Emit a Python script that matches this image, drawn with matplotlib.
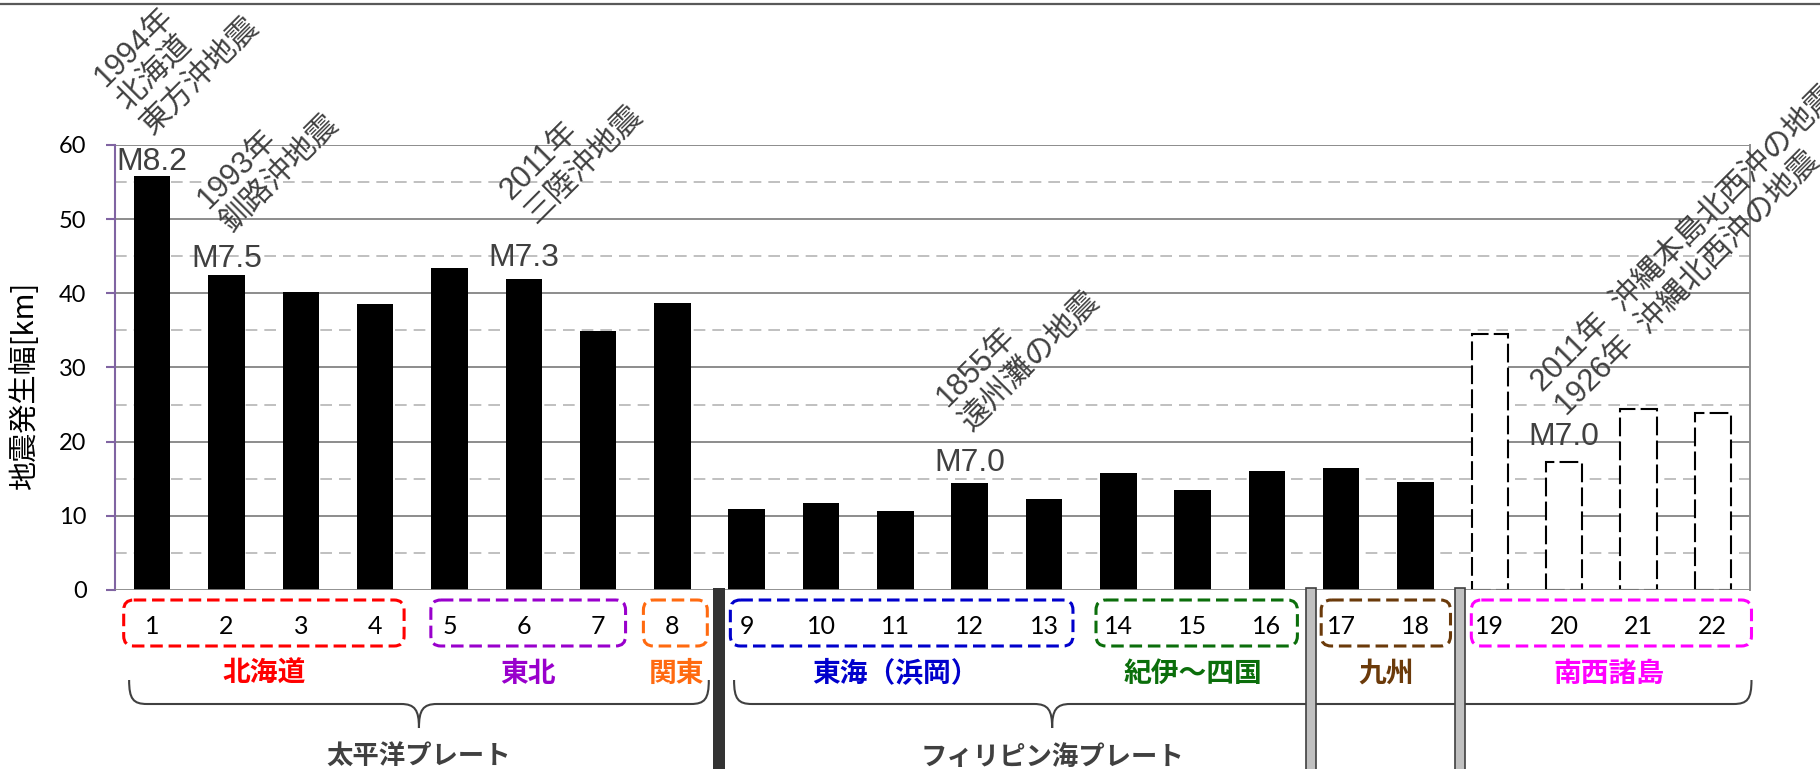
import matplotlib
matplotlib.use('Agg')
import matplotlib.pyplot as plt
from matplotlib.patches import FancyBboxPatch, PathPatch, Rectangle
from matplotlib.path import Path

plt.rcParams['font.family'] = ['Noto Sans CJK JP', 'DejaVu Sans']

# ---------------- data ----------------
categories = list(range(1, 23))
widths_km = [55.8, 42.5, 40.2, 38.5, 43.4, 41.9, 34.9, 38.7,
             10.9, 11.7, 10.6, 14.4, 12.3, 15.8, 13.5, 16.1,
             16.4, 14.6, 34.5, 17.3, 24.4, 23.8]
estimated = [False] * 18 + [True] * 4

region_names = ['北海道', '東北', '関東', '東海（浜岡）', '紀伊～四国', '九州', '南西諸島']
region_colors = ['#ff0000', '#9900cc', '#ff6a10', '#0000cc', '#0b6e0b', '#6b3a0a', '#ff00ff']

plate_names = ['太平洋プレート', 'フィリピン海プレート']

event_bars = [1, 2, 6, 12, 20]
event_mags = ['M8.2', 'M7.5', 'M7.3', 'M7.0', 'M7.0']
event_names = ['1994年\n北海道\n東方沖地震',
               '1993年\n釧路沖地震',
               '2011年\n三陸沖地震',
               '1855年\n遠州灘の地震',
               '2011年  沖縄本島北西沖の地震\n1926年  沖縄北西沖の地震']

yticks = [0, 10, 20, 30, 40, 50, 60]
ylabel = '地震発生幅[km]'

# ---------------- layout (pixels / category units) ----------------
W, H = 1820, 769
AX_L, AX_R, AX_T, AX_B = 115, 1750, 145, 590
CAT_PX = (AX_R - AX_L) / 22.0

region_label_x = [2.5, 6.05, 8.05, 11.0, 15.0, 17.6, 20.6]
box_left = [0.617, 4.75, 7.61, 8.78, 13.7, 16.73, 18.75]
box_right = [4.39, 7.37, 8.47, 13.39, 16.41, 18.47, 22.52]
brace_left = [0.69, 8.83]
brace_right = [8.49, 22.52]
brace_tip = [4.59, 13.11]
sep_x = [8.63, 16.59, 18.6]
sep_dark = [True, False, False]
mag_dy = [6, 8, 13, 12, 17]
name_off = [(5, 30), (10, 29), (16, 37), (6, 35), (7, 24)]

TXT = '#404040'
PURPLE = '#8064a2'

fig = plt.figure(figsize=(W / 100, H / 100), dpi=100)
ax = fig.add_axes([AX_L / W, 1 - AX_B / H, (AX_R - AX_L) / W, (AX_B - AX_T) / H])
ax.set_xlim(0.5, 22.5)
ax.set_ylim(0, 60)

# grid
for y in range(10, 61, 10):
    ax.axhline(y, color='#8c8c8c', lw=1.4, zorder=1)
for y in range(5, 60, 10):
    ax.axhline(y, color='#c0c0c0', lw=1.4, ls=(0, (6, 3.6)), zorder=1)
ax.axhline(0, color='#868686', lw=2, zorder=3)

# bars
sx = [c for c, e in zip(categories, estimated) if not e]
sv = [v for v, e in zip(widths_km, estimated) if not e]
dx = [c for c, e in zip(categories, estimated) if e]
dv = [v for v, e in zip(widths_km, estimated) if e]
ax.bar(sx, sv, 0.49, color='black', zorder=2)
ax.bar(dx, dv, 0.49, facecolor='white', edgecolor='black', lw=1.5,
       ls=(0, (9, 2.5)), zorder=2)

# spines and ticks
for s in ['top', 'bottom']:
    ax.spines[s].set_visible(False)
ax.spines['left'].set_color(PURPLE)
ax.spines['left'].set_linewidth(1.5)
ax.spines['right'].set_color('#8c8c8c')
ax.spines['right'].set_linewidth(1.4)
ax.set_yticks(yticks)
ax.set_yticklabels([str(t) for t in yticks], family='Lato', fontsize=17)
ax.tick_params(axis='y', direction='out', length=6.5, width=1.5, color=PURPLE, pad=14)
ax.set_xticks([])

# annotations
for b, m, mdy, nm, (ndx, ndy) in zip(event_bars, event_mags, mag_dy, event_names, name_off):
    v = widths_km[b - 1]
    ax.annotate(m, xy=(b, v), xytext=(0, mdy * 0.72), textcoords='offset points',
                ha='center', va='baseline', fontsize=23, color=TXT,
                family=['Liberation Sans', 'Noto Sans CJK JP'], annotation_clip=False)
    ax.annotate(nm, xy=(b, v), xytext=(ndx * 0.72, (mdy + ndy) * 0.72),
                textcoords='offset points', ha='left', va='bottom', rotation=45,
                rotation_mode='anchor', fontsize=22, color=TXT, linespacing=1.15,
                multialignment='left', family=['Liberation Sans', 'Noto Sans CJK JP'],
                annotation_clip=False)

fig.text(25.5 / W, 1 - 386 / H, ylabel, rotation=90, ha='center', va='center', fontsize=21)

# overlay in pixel coordinates
ov = fig.add_axes([0, 0, 1, 1], zorder=5)
ov.set_xlim(0, W)
ov.set_ylim(H, 0)
ov.axis('off')


def cx(x):
    return AX_L + (x - 0.5) * CAT_PX


ov.plot([0, W], [4, 4], color='#595959', lw=1.6)

for c in categories:
    ov.text(cx(c), 627, str(c), ha='center', va='center', fontsize=18, family='Lato')

for name, col, lx, bl, br in zip(region_names, region_colors, region_label_x, box_left, box_right):
    x0, x1 = cx(bl), cx(br)
    ov.add_patch(FancyBboxPatch((x0, 600), x1 - x0, 46,
                                boxstyle='round,pad=0,rounding_size=10',
                                facecolor='none', edgecolor=col, lw=2.2, ls=(0, (4.1, 1.9))))
    ov.text(cx(lx), 674, name, ha='center', va='center', fontsize=20,
            fontweight='bold', color=col)

r = 18
for name, bl, br, bt in zip(plate_names, brace_left, brace_right, brace_tip):
    xl, xr, xt = cx(bl), cx(br), cx(bt)
    verts = [(xl, 680), (xl, 699), (xl + 4, 704), (xl + r, 704),
             (xt - r, 704),
             (xt - 4, 704), (xt, 710), (xt, 728),
             (xt, 710), (xt + 4, 704), (xt + r, 704),
             (xr - r, 704),
             (xr - 4, 704), (xr, 699), (xr, 680)]
    codes = [Path.MOVETO, Path.CURVE4, Path.CURVE4, Path.CURVE4,
             Path.LINETO,
             Path.CURVE4, Path.CURVE4, Path.CURVE4,
             Path.CURVE4, Path.CURVE4, Path.CURVE4,
             Path.LINETO,
             Path.CURVE4, Path.CURVE4, Path.CURVE4]
    ov.add_patch(PathPatch(Path(verts, codes), facecolor='none', edgecolor=TXT, lw=1.5))
    ov.text(xt, 757, name, ha='center', va='center', fontsize=19, fontweight='bold', color=TXT)

for sxp, dark in zip(sep_x, sep_dark):
    x = cx(sxp)
    if dark:
        ov.add_patch(Rectangle((x - 6, 588), 12, H - 588 + 5, facecolor='#333333',
                               edgecolor='none', zorder=6))
    else:
        ov.add_patch(Rectangle((x - 5, 588), 10, H - 588 + 5, facecolor='#c0c0c0',
                               edgecolor='#404040', lw=1.2, zorder=6))

fig.savefig('out.png', dpi=100)
